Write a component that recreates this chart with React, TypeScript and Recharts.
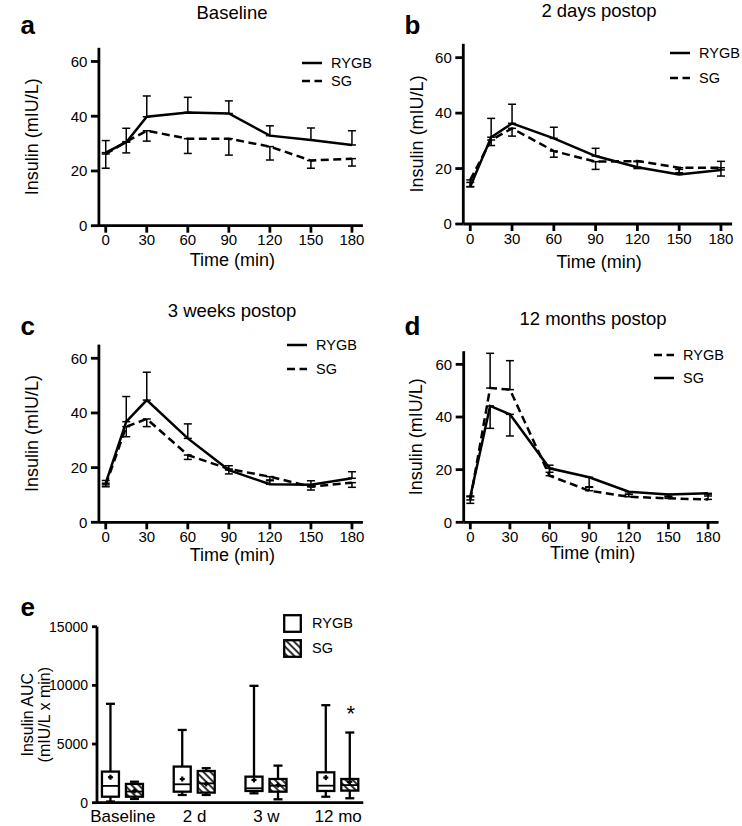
import React from 'react';
import { ComposedChart, Line, Bar, XAxis, YAxis, ErrorBar, Legend, Label } from 'recharts';

const FONT = '"Liberation Sans", Arial, Helvetica, sans-serif';

// ---------- Data: insulin curves (mIU/L), mean and SEM ----------
const timePoints = [0, 15, 30, 60, 90, 120, 150, 180];
const timeTicks = [0, 30, 60, 90, 120, 150, 180];
const insulinTicks = [0, 20, 40, 60];
const groupNames = ['RYGB', 'SG'];

// a – Baseline
const baselineRygb = [26.7, 30.5, 39.8, 41.4, 41.0, 32.9, 31.3, 29.5];
const baselineRygbSem = [4.4, 5.1, 7.6, 5.5, 4.6, 3.6, 4.4, 5.2];
const baselineSg = [26.2, 30.7, 34.7, 31.8, 31.8, 28.9, 23.8, 24.5];
const baselineSgSem = [5.2, 4.1, 3.8, 5.4, 6.0, 4.9, 2.8, 2.7];

// b – 2 days postop
const days2Rygb = [13.5, 31.3, 36.3, 30.9, 24.5, 20.5, 17.9, 19.5];
const days2RygbSem = [1.5, 6.8, 6.9, 4.0, 2.8, 2.0, 1.8, 3.1];
const days2Sg = [15.9, 30.3, 34.5, 26.3, 22.5, 22.7, 20.3, 20.3];
const days2SgSem = [2.5, 2.0, 2.8, 2.2, 2.8, 2.7, 1.8, 3.0];

// c – 3 weeks postop
const weeks3Rygb = [14.3, 36.8, 44.7, 30.7, 19.1, 13.9, 13.7, 16.1];
const weeks3RygbSem = [1.0, 9.2, 10.2, 5.3, 1.6, 1.6, 1.5, 2.4];
const weeks3Sg = [13.7, 35.0, 37.8, 24.6, 19.5, 16.7, 13.0, 14.5];
const weeks3SgSem = [0.7, 3.7, 2.8, 1.6, 1.8, 1.5, 1.2, 1.7];

// d – 12 months postop
const months12Rygb = [8.5, 51.0, 50.4, 17.7, 12.0, 9.7, 9.1, 8.7];
const months12RygbSem = [1.5, 13.2, 11.0, 4.0, 1.5, 1.0, 0.8, 2.0];
const months12Sg = [9.7, 44.2, 41.0, 20.5, 17.1, 11.6, 10.6, 11.0];
const months12SgSem = [2.5, 8.5, 8.2, 1.5, 3.8, 1.0, 1.0, 1.0];

// e – Insulin AUC box plots (mIU/L x min)
const aucCategories = ['Baseline', '2 d', '3 w', '12 mo'];
const aucTicks = [0, 5000, 10000, 15000];
const aucRygbMin = [100, 660, 800, 510];
const aucRygbQ1 = [510, 940, 1000, 1000];
const aucRygbMedian = [1430, 1570, 1230, 1450];
const aucRygbQ3 = [2650, 3080, 2220, 2590];
const aucRygbMax = [8430, 6200, 9960, 8310];
const aucRygbMean = [2170, 2020, 1940, 2140];
const aucSgMin = [320, 660, 290, 380];
const aucSgQ1 = [510, 860, 940, 1030];
const aucSgMedian = [950, 1650, 1450, 1500];
const aucSgQ3 = [1600, 2700, 2020, 2020];
const aucSgMax = [1790, 2940, 3160, 5980];
const aucSgMean = [1000, 1600, 1500, 1790];
const aucSgSignificant = [false, false, false, true];

// ---------- helpers ----------
const AXIS_STROKE = { stroke: '#000', strokeWidth: 2.8 };
const tickStyle = { fill: '#000', fontSize: 15, fontFamily: FONT };

function rotatedYLabel(lines: string[], dists: number[], fontSize: number) {
  return (props: any) => {
    const vb = props.viewBox || {};
    const axisX = vb.x + vb.width;
    const cy = vb.y + vb.height / 2;
    return (
      <g>
        {lines.map((t, i) => {
          const cx = axisX - dists[i];
          return (
            <text key={i} x={cx} y={cy} transform={`rotate(-90, ${cx}, ${cy})`} textAnchor="middle" dy="0.36em"
              fontSize={fontSize} fontFamily={FONT} fill="#000">{t}</text>
          );
        })}
      </g>
    );
  };
}

function bottomLabel(text: string, dx: number, dy: number) {
  return (props: any) => {
    const vb = props.viewBox || {};
    return (
      <text x={vb.x + vb.width / 2 + dx} y={vb.y + dy} textAnchor="middle" fontSize={18} fontFamily={FONT} fill="#000">{text}</text>
    );
  };
}

function LineLegend({ items, gap }: { items: { name: string; dash?: string }[]; gap: number }) {
  return (
    <div style={{ fontFamily: FONT, fontSize: 14.5, color: '#000', lineHeight: 1, whiteSpace: 'nowrap' }}>
      {items.map((it) => (
        <div key={it.name} style={{ height: gap, display: 'flex', alignItems: 'center' }}>
          <svg width={20} height={6} style={{ display: 'block' }}>
            <line x1={0} y1={3} x2={20} y2={3} stroke="#000" strokeWidth={2.5} strokeDasharray={it.dash} />
          </svg>
          <span style={{ marginLeft: 9 }}>{it.name}</span>
        </div>
      ))}
    </div>
  );
}

type Rect = { x: number; y: number; w: number; h: number };
type Plot = { x0: number; x1: number; y0: number; y1: number };

function InsulinPanel(p: {
  box: Rect; plot: Plot; rygb: number[]; rygbSem: number[]; sg: number[]; sgSem: number[];
  rygbDash?: string; sgDash?: string; yDist: number; xLabelDy: number; legendAt: { x: number; y: number; gap: number };
}) {
  const { box, plot } = p;
  const rows = timePoints.map((t, i) => ({
    t,
    rygb: p.rygb[i],
    sg: p.sg[i],
    rygbErr: [0, p.rygbSem[i]],
    sgErr: [p.sgSem[i], 0],
  }));
  const Y_W = 50;
  const X_H = 30;
  const margin = {
    top: plot.y0 - box.y,
    left: plot.x0 - box.x - Y_W,
    right: box.x + box.w - plot.x1,
    bottom: box.y + box.h - plot.y1 - X_H,
  };
  const legendItems = [
    { name: groupNames[0], dash: p.rygbDash },
    { name: groupNames[1], dash: p.sgDash },
  ];
  return (
    <div style={{ position: 'absolute', left: box.x, top: box.y }}>
      <ComposedChart width={box.w} height={box.h} data={rows} margin={margin}>
        <XAxis type="number" dataKey="t" domain={[-5, 188]} ticks={timeTicks} height={X_H}
          axisLine={AXIS_STROKE} tickLine={AXIS_STROKE} tickSize={7} tickMargin={2} tick={tickStyle} interval={0}>
          <Label content={bottomLabel('Time (min)', 1.5, p.xLabelDy)} />
        </XAxis>
        <YAxis type="number" domain={[0, 65]} ticks={insulinTicks} width={Y_W}
          axisLine={AXIS_STROKE} tickLine={AXIS_STROKE} tickSize={8} tickMargin={3.5} tick={tickStyle} interval={0}>
          <Label content={rotatedYLabel(['Insulin (mIU/L)'], [p.yDist], 18)} />
        </YAxis>
        <Legend layout="horizontal" verticalAlign="middle" align="center"
          wrapperStyle={{ left: p.legendAt.x - box.x, top: p.legendAt.y - box.y, width: 'auto' }}
          content={() => <LineLegend items={legendItems} gap={p.legendAt.gap} />} />
        <Line type="linear" dataKey="sg" name="SG" stroke="#000" strokeWidth={2.5} strokeDasharray={p.sgDash}
          dot={false} activeDot={false} isAnimationActive={false}>
          <ErrorBar dataKey="sgErr" width={4} stroke="#000" strokeWidth={1.5} direction="y" />
        </Line>
        <Line type="linear" dataKey="rygb" name="RYGB" stroke="#000" strokeWidth={2.5} strokeDasharray={p.rygbDash}
          dot={false} activeDot={false} isAnimationActive={false}>
          <ErrorBar dataKey="rygbErr" width={4} stroke="#000" strokeWidth={1.5} direction="y" />
        </Line>
      </ComposedChart>
    </div>
  );
}

const aucRows = aucCategories.map((c, i) => ({
  idx: i,
  category: c,
  rygbMin: aucRygbMin[i], rygbQ1: aucRygbQ1[i], rygbMedian: aucRygbMedian[i], rygbQ3: aucRygbQ3[i], rygbMax: aucRygbMax[i], rygbMean: aucRygbMean[i],
  sgMin: aucSgMin[i], sgQ1: aucSgQ1[i], sgMedian: aucSgMedian[i], sgQ3: aucSgQ3[i], sgMax: aucSgMax[i], sgMean: aucSgMean[i],
  sgSig: aucSgSignificant[i],
}));

function makeBoxShape(prefix: 'rygb' | 'sg', fill: string) {
  return (props: any) => {
    const { x, y, width, height, payload } = props;
    if (!payload || width == null) return <g />;
    const q1 = payload[prefix + 'Q1'];
    const q3 = payload[prefix + 'Q3'];
    const top = Math.min(y, y + height);
    const h = Math.abs(height);
    const k = h / (q3 - q1);
    const py = (v: number) => top + (q3 - v) * k;
    const cx = x + width / 2;
    const sw = 2.3;
    const yMax = py(payload[prefix + 'Max']);
    const yMin = py(payload[prefix + 'Min']);
    const yMed = py(payload[prefix + 'Median']);
    const yMean = py(payload[prefix + 'Mean']);
    const cap = 4.5;
    return (
      <g>
        <line x1={cx} x2={cx} y1={yMax} y2={top} stroke="#000" strokeWidth={sw} />
        <line x1={cx} x2={cx} y1={top + h} y2={yMin} stroke="#000" strokeWidth={sw} />
        <line x1={cx - cap} x2={cx + cap} y1={yMax} y2={yMax} stroke="#000" strokeWidth={sw} />
        <line x1={cx - cap} x2={cx + cap} y1={yMin} y2={yMin} stroke="#000" strokeWidth={sw} />
        <rect x={x} y={top} width={width} height={h} fill={fill} stroke="#000" strokeWidth={sw} />
        <line x1={x} x2={x + width} y1={yMed} y2={yMed} stroke="#000" strokeWidth={1.8} />
        <line x1={cx - 2.5} x2={cx + 2.5} y1={yMean} y2={yMean} stroke="#000" strokeWidth={2.2} />
        <line x1={cx} x2={cx} y1={yMean - 2.5} y2={yMean + 2.5} stroke="#000" strokeWidth={2.2} />
        {prefix === 'sg' && payload.sgSig ? (
          <text x={cx + 1} y={yMax - 12} textAnchor="middle" fontSize={22} fontFamily={FONT} fill="#000">*</text>
        ) : null}
      </g>
    );
  };
}

function BoxLegend() {
  const fills = ['#fff', 'url(#sgHatchLegend)'];
  return (
    <div style={{ fontFamily: FONT, fontSize: 14.5, color: '#000', lineHeight: 1, whiteSpace: 'nowrap' }}>
      <svg width={0} height={0} style={{ position: 'absolute' }}>
        <defs>
          <pattern id="sgHatchLegend" patternUnits="userSpaceOnUse" width={5} height={5} patternTransform="rotate(-45)">
            <rect width={5} height={5} fill="#fff" />
            <rect x={0} y={0} width={2} height={5} fill="#333" />
          </pattern>
        </defs>
      </svg>
      {groupNames.map((n, i) => (
        <div key={n} style={{ height: 25, display: 'flex', alignItems: 'center' }}>
          <svg width={19} height={19} style={{ display: 'block' }}>
            <rect x={1.2} y={1.2} width={16.6} height={16.6} fill={fills[i]} stroke="#000" strokeWidth={2.3} />
          </svg>
          <span style={{ marginLeft: 10 }}>{n}</span>
        </div>
      ))}
    </div>
  );
}

function AucPanel() {
  const box = { x: 0, y: 570, w: 400, h: 270 };
  const plot = { x0: 97, x1: 363.3, y0: 626.7, y1: 802.7 };
  const Y_W = 62;
  const X_H = 30;
  const margin = {
    top: plot.y0 - box.y,
    left: plot.x0 - box.x - Y_W,
    right: box.x + box.w - plot.x1,
    bottom: box.y + box.h - plot.y1 - X_H,
  };
  return (
    <div style={{ position: 'absolute', left: box.x, top: box.y }}>
      <ComposedChart width={box.w} height={box.h} data={aucRows} margin={margin} barGap={7}>
        <defs>
          <pattern id="sgHatch" patternUnits="userSpaceOnUse" width={5} height={5} patternTransform="rotate(-45)">
            <rect width={5} height={5} fill="#fff" />
            <rect x={0} y={0} width={2} height={5} fill="#333" />
          </pattern>
        </defs>
        <XAxis type="number" dataKey="idx" domain={[-0.36, 3.35]} ticks={[0, 1, 2, 3]} height={X_H}
          tickFormatter={(v: number) => aucCategories[v] ?? ''} axisLine={AXIS_STROKE} tickLine={false}
          tickSize={4} tickMargin={3.5} tick={{ fill: '#000', fontSize: 17, fontFamily: FONT }} interval={0} />
        <YAxis type="number" domain={[0, 15000]} ticks={aucTicks} width={Y_W}
          axisLine={AXIS_STROKE} tickLine={AXIS_STROKE} tickSize={5} tickMargin={4} tick={{ ...tickStyle, fontSize: 14 }} interval={0}>
          <Label content={rotatedYLabel(['Insulin AUC', '(mIU/L x min)'], [70, 53], 16)} />
        </YAxis>
        <Legend layout="horizontal" verticalAlign="middle" align="center"
          wrapperStyle={{ left: 283, top: 611 - box.y, width: 'auto' }}
          content={() => <BoxLegend />} />
        <Bar dataKey={(d: any) => [d.rygbQ1, d.rygbQ3]} name="RYGB" barSize={17}
          shape={makeBoxShape('rygb', '#fff')} isAnimationActive={false} />
        <Bar dataKey={(d: any) => [d.sgQ1, d.sgQ3]} name="SG" barSize={17}
          shape={makeBoxShape('sg', 'url(#sgHatch)')} isAnimationActive={false} />
      </ComposedChart>
    </div>
  );
}

const panelTitles = [
  { text: 'Baseline', x: 232, y: 19 },
  { text: '2 days postop', x: 599, y: 16.8 },
  { text: '3 weeks postop', x: 232, y: 316.5 },
  { text: '12 months postop', x: 593, y: 324.5 },
];
const panelLetters = [
  { text: 'a', x: 20.5, y: 33.5 },
  { text: 'b', x: 404.5, y: 33.5 },
  { text: 'c', x: 20.5, y: 335 },
  { text: 'd', x: 404.5, y: 335 },
  { text: 'e', x: 20.5, y: 616 },
];

export default function App() {
  return (
    <div style={{ position: 'absolute', left: 0, top: 0, width: 742, height: 826, background: '#fff', overflow: 'hidden', fontFamily: FONT }}>
      <InsulinPanel
        box={{ x: 0, y: 0, w: 371, h: 285 }}
        plot={{ x0: 98.9, x1: 362.9, y0: 47.8, y1: 225.7 }}
        rygb={baselineRygb} rygbSem={baselineRygbSem} sg={baselineSg} sgSem={baselineSgSem}
        sgDash="8 4.5" yDist={67.2} xLabelDy={40}
        legendAt={{ x: 302, y: 54.5, gap: 17.5 }} />
      <InsulinPanel
        box={{ x: 371, y: 0, w: 371, h: 285 }}
        plot={{ x0: 463.3, x1: 732.1, y0: 43.8, y1: 224 }}
        rygb={days2Rygb} rygbSem={days2RygbSem} sg={days2Sg} sgSem={days2SgSem}
        sgDash="8 4.5" yDist={46.5} xLabelDy={44}
        legendAt={{ x: 670, y: 41, gap: 24.5 }} />
      <InsulinPanel
        box={{ x: 0, y: 270, w: 371, h: 310 }}
        plot={{ x0: 98.9, x1: 362.9, y0: 344.6, y1: 522.3 }}
        rygb={weeks3Rygb} rygbSem={weeks3RygbSem} sg={weeks3Sg} sgSem={weeks3SgSem}
        sgDash="8 4.5" yDist={67.2} xLabelDy={39}
        legendAt={{ x: 287, y: 333, gap: 24 }} />
      <InsulinPanel
        box={{ x: 371, y: 270, w: 371, h: 310 }}
        plot={{ x0: 463.7, x1: 718.6, y0: 351.2, y1: 522.3 }}
        rygb={months12Rygb} rygbSem={months12RygbSem} sg={months12Sg} sgSem={months12SgSem}
        rygbDash="8 4.5" yDist={47.7} xLabelDy={37}
        legendAt={{ x: 654, y: 343.5, gap: 23 }} />
      <AucPanel />
      <svg width={742} height={826} style={{ position: 'absolute', left: 0, top: 0, pointerEvents: 'none' }}>
        {panelTitles.map((t) => (
          <text key={t.text} x={t.x} y={t.y} textAnchor="middle" fontSize={18.5} fontFamily={FONT} fill="#000">{t.text}</text>
        ))}
        {panelLetters.map((t) => (
          <text key={t.text} x={t.x} y={t.y} fontSize={26} fontWeight="bold" fontFamily={FONT} fill="#000">{t.text}</text>
        ))}
      </svg>
    </div>
  );
}
